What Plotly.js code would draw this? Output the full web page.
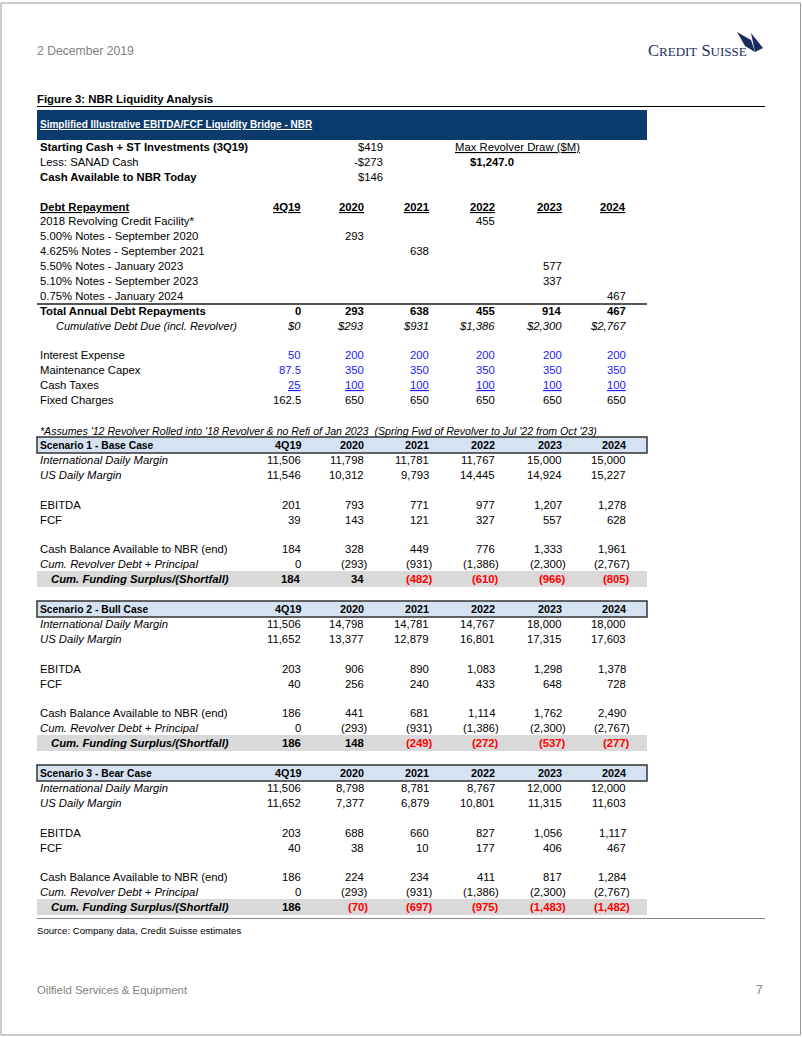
<!DOCTYPE html>
<html><head><meta charset="utf-8">
<script src="https://cdn.plot.ly/plotly-3.0.1.min.js"></script>
<style>html,body{margin:0;padding:0;background:#fff}</style>
</head><body><div id="chart" style="width:802px;height:1037px"></div>
<script>
// ---------------- DATA ----------------
const years = ['4Q19','2020','2021','2022','2023','2024'];
const startLabels = ['Starting Cash + ST Investments (3Q19)','Less: SANAD Cash','Cash Available to NBR Today'];
const startValues = ['$419','-$273','$146'];
const revolverLabel = 'Max Revolver Draw ($M)';
const revolverValue = '$1,247.0';
const debtLabels = ['2018 Revolving Credit Facility*','5.00% Notes - September 2020','4.625% Notes - September 2021',
  '5.50% Notes - January 2023','5.10% Notes - September 2023','0.75% Notes - January 2024'];
const debtValues = [
  [null,null,null,455,null,null],
  [null,293,null,null,null,null],
  [null,null,638,null,null,null],
  [null,null,null,null,577,null],
  [null,null,null,null,337,null],
  [null,null,null,null,null,467]];
const totalDebt = [0,293,638,455,914,467];
const cumDebt = [0,293,931,1386,2300,2767];
const interestExp = [50,200,200,200,200,200];
const maintCapex = [87.5,350,350,350,350,350];
const cashTaxes = [25,100,100,100,100,100];
const fixedCharges = [162.5,650,650,650,650,650];
const footnote = "*Assumes '12 Revolver Rolled into '18 Revolver & no Refi of Jan 2023  (Spring Fwd of Revolver to Jul '22 from Oct '23)";
const scenarioNames = ['Scenario 1 - Base Case','Scenario 2 - Bull Case','Scenario 3 - Bear Case'];
const intlMargin = [[11506,11798,11781,11767,15000,15000],[11506,14798,14781,14767,18000,18000],[11506,8798,8781,8767,12000,12000]];
const usMargin = [[11546,10312,9793,14445,14924,15227],[11652,13377,12879,16801,17315,17603],[11652,7377,6879,10801,11315,11603]];
const ebitda = [[201,793,771,977,1207,1278],[203,906,890,1083,1298,1378],[203,688,660,827,1056,1117]];
const fcf = [[39,143,121,327,557,628],[40,256,240,433,648,728],[40,38,10,177,406,467]];
const cashBal = [[184,328,449,776,1333,1961],[186,441,681,1114,1762,2490],[186,224,234,411,817,1284]];
const cumRevolver = [[0,-293,-931,-1386,-2300,-2767],[0,-293,-931,-1386,-2300,-2767],[0,-293,-931,-1386,-2300,-2767]];
const cumFunding = [[184,34,-482,-610,-966,-805],[186,148,-249,-272,-537,-277],[186,-70,-697,-975,-1483,-1482]];

// ---------------- LAYOUT HELPERS ----------------
const SANS = 'Liberation Sans, Arial, sans-serif';
const FS = 11.3;
const COLX = [301, 364, 429, 495, 562, 626];
const LX = 40;
const ann = [];
const shapes = [];
function txt(x, y, text, o) {
  o = o || {};
  ann.push({x: x, y: y, xref: 'x', yref: 'y', text: text, showarrow: false,
    xanchor: o.anchor || 'left', yanchor: 'middle', borderpad: 0, borderwidth: 0,
    xshift: o.xshift || 0,
    font: {family: o.family || SANS, size: o.size || FS, color: o.color || '#000',
      weight: o.bold ? 'bold' : 'normal', style: o.italic ? 'italic' : 'normal'}});
}
function fmt(v) {
  const s = Math.abs(v).toLocaleString('en-US');
  return v < 0 ? '(' + s + ')' : s;
}
function rowVals(y, vals, o) {
  o = o || {};
  vals.forEach((v, i) => {
    if (v === null || v === undefined) return;
    let s = o.format ? o.format(v) : fmt(v);
    if (o.underline) s = '<u>' + s + '</u>';
    const neg = typeof v === 'number' && v < 0;
    txt(COLX[i], y, s, {anchor: 'right', bold: o.bold, italic: o.italic,
      color: (o.redNeg && neg) ? '#ff0000' : (o.color || '#000'), xshift: neg ? 4 : 0});
  });
}
function rect(x0, y0, x1, y1, fill, line, lw) {
  shapes.push({type: 'rect', xref: 'x', yref: 'y', x0: x0, y0: y0, x1: x1, y1: y1,
    fillcolor: fill || 'rgba(0,0,0,0)', line: {color: line || 'rgba(0,0,0,0)', width: lw || 0}, layer: 'below'});
}
function hline(x0, x1, y, color, w) {
  shapes.push({type: 'line', xref: 'x', yref: 'y', x0: x0, x1: x1, y0: y, y1: y, line: {color: color, width: w}});
}

// page frame
shapes.push({type: 'rect', xref: 'x', yref: 'y', x0: 1, y0: 3, x1: 800.5, y1: 1035, line: {color: '#9a9a9a', width: 1}});

// header
txt(37, 51, '2 December 2019', {size: 12.2, color: '#7f7f7f'});
txt(648, 50, 'C<span style="font-size:13px">REDIT</span> S<span style="font-size:13px">UISSE</span>',
  {family: 'Liberation Serif, serif', size: 16.5, color: '#1b2b5e'});
shapes.push({type: 'path', xref: 'x', yref: 'y', path: 'M737,32 L751,40 L755,52 L745,46 Z', fillcolor: '#1b2b5e', line: {width: 0}});
shapes.push({type: 'path', xref: 'x', yref: 'y', path: 'M751,33 L763,48 L755,52 Z', fillcolor: '#1b2b5e', line: {width: 0}});
txt(37, 99, 'Figure 3: NBR Liquidity Analysis', {size: 11.4, bold: true});
hline(37, 765, 106.5, '#000', 1);

// navy banner
rect(37, 110, 647, 140, '#0b3a6c');
txt(40, 124, '<u>Simplified Illustrative EBITDA/FCF Liquidity Bridge - NBR</u>', {size: 10, bold: true, color: '#ffffff'});

// starting cash block
const startY = [147, 162, 177];
startLabels.forEach((l, i) => {
  txt(LX, startY[i], l, {bold: i !== 1});
  txt(383, startY[i], startValues[i], {anchor: 'right'});
});
txt(455, 147, '<u>' + revolverLabel + '</u>', {});
txt(470, 162, revolverValue, {bold: true});

// debt repayment
txt(LX, 207, '<u>Debt Repayment</u>', {bold: true});
years.forEach((yr, i) => txt(COLX[i], 207, '<u>' + yr + '</u>', {anchor: 'right', bold: true}));
const debtY = [221, 236, 251, 266, 281, 296];
debtLabels.forEach((l, i) => {
  txt(LX, debtY[i], l);
  rowVals(debtY[i], debtValues[i]);
});
hline(37, 647, 304, '#555', 2);
txt(LX, 311, 'Total Annual Debt Repayments', {bold: true});
rowVals(311, totalDebt, {bold: true});
txt(56, 326, 'Cumulative Debt Due (incl. Revolver)', {italic: true, size: 11});
rowVals(326, cumDebt, {italic: true, format: v => '$' + v.toLocaleString('en-US')});

const BLUE = '#1a1aff';
txt(LX, 355, 'Interest Expense'); rowVals(355, interestExp, {color: BLUE});
txt(LX, 370, 'Maintenance Capex'); rowVals(370, maintCapex, {color: BLUE, format: v => String(v)});
txt(LX, 385, 'Cash Taxes'); rowVals(385, cashTaxes, {color: BLUE, underline: true});
txt(LX, 400, 'Fixed Charges'); rowVals(400, fixedCharges, {format: v => String(v)});

txt(LX, 431, footnote, {italic: true, size: 10.6});

// scenarios
const scenTop = [437, 601, 765];
scenarioNames.forEach((name, s) => {
  const t = scenTop[s];
  rect(37, t, 647, t + 16, '#d5e2f1', '#333', 1.5);
  const hy = t + 8;
  txt(LX, hy, name, {bold: true, size: 10.3});
  years.forEach((yr, i) => txt(COLX[i], hy, yr, {anchor: 'right', bold: true, size: 10.8}));
  const y0 = t + 23;
  txt(LX, y0, 'International Daily Margin', {italic: true}); rowVals(y0, intlMargin[s]);
  txt(LX, y0 + 15, 'US Daily Margin', {italic: true}); rowVals(y0 + 15, usMargin[s]);
  txt(LX, y0 + 44.5, 'EBITDA'); rowVals(y0 + 44.5, ebitda[s]);
  txt(LX, y0 + 59.5, 'FCF'); rowVals(y0 + 59.5, fcf[s]);
  txt(LX, y0 + 89, 'Cash Balance Available to NBR (end)'); rowVals(y0 + 89, cashBal[s]);
  txt(LX, y0 + 104, 'Cum. Revolver Debt + Principal', {italic: true}); rowVals(y0 + 104, cumRevolver[s]);
  rect(37, y0 + 111, 647, y0 + 127, '#d9d9d9');
  txt(51, y0 + 119, 'Cum. Funding Surplus/(Shortfall)', {bold: true, italic: true});
  rowVals(y0 + 119, cumFunding[s], {bold: true, redNeg: true});
});
hline(37, 765, 918.5, '#888', 1);
txt(37, 930, 'Source: Company data, Credit Suisse estimates', {size: 9.6});
txt(37, 990, 'Oilfield Services &amp; Equipment', {size: 11.4, color: '#7f7f7f'});
txt(763, 990, '7', {anchor: 'right', size: 12, color: '#7f7f7f'});

const layout = {
  width: 802, height: 1037, margin: {l: 0, r: 0, t: 0, b: 0},
  paper_bgcolor: '#fff', plot_bgcolor: '#fff', showlegend: false,
  xaxis: {range: [0, 802], visible: false, fixedrange: true},
  yaxis: {range: [1037, 0], visible: false, fixedrange: true},
  annotations: ann, shapes: shapes
};
Plotly.newPlot('chart', [{x: [], y: [], type: 'scatter', mode: 'markers', hoverinfo: 'skip'}], layout, {displayModeBar: false, staticPlot: true});
</script></body></html>
